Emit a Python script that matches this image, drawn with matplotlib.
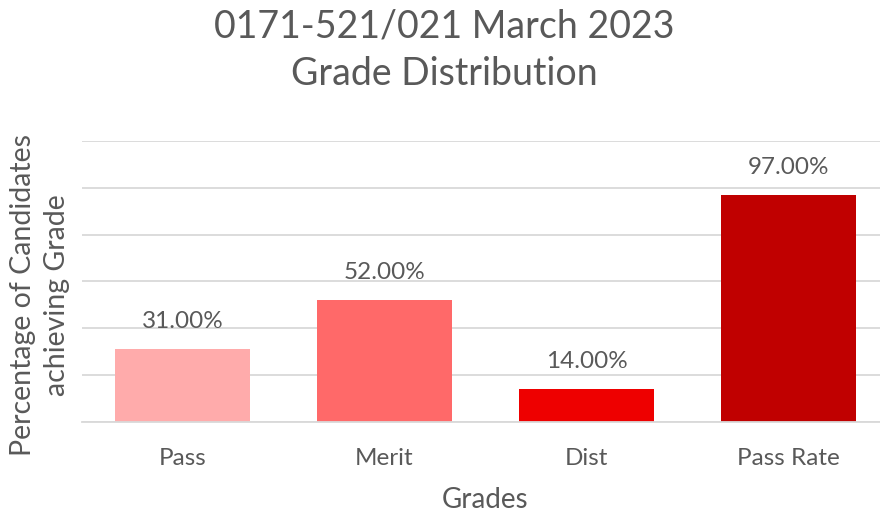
import numpy as np
import matplotlib.pyplot as plt

plt.rcParams['font.family'] = ['Lato', 'DejaVu Sans']

# Data
grades = ['Pass', 'Merit', 'Dist', 'Pass Rate']
percentages = [31.0, 52.0, 14.0, 97.0]
bar_colours = ['#FFABAB', '#FF6969', '#EE0000', '#C00000']

text_grey = '#595959'
grid_grey = '#D9D9D9'

fig = plt.figure(figsize=(8.8, 5.13), dpi=100)
ax = fig.add_axes([81.5 / 880, 1 - 421.5 / 513, 1 - 81.5 / 880, (421.5 - 141) / 513])

x = np.arange(len(grades))
bars = ax.bar(x, percentages, width=0.67, color=bar_colours, zorder=2)

# Value labels above each bar
for rect, val in zip(bars, percentages):
    ax.annotate(f'{val:.2f}%', (rect.get_x() + rect.get_width() / 2, rect.get_height()),
                xytext=(0, 15), textcoords='offset points', ha='center', va='baseline',
                fontsize=17.5, color=text_grey)

ax.set_xlim(-0.5, (880 - 182.5) / 202)
ax.set_ylim(0, 120)
ax.set_yticks(np.arange(0, 121, 20))
ax.set_yticklabels([])
ax.yaxis.grid(True, color=grid_grey, linewidth=1.3, zorder=0)
ax.set_axisbelow(True)

ax.set_xticks(x)
ax.set_xticklabels(grades, fontsize=17.5, color=text_grey)
ax.tick_params(axis='both', length=0, pad=19)

for side in ['top', 'right', 'left']:
    ax.spines[side].set_visible(False)
ax.spines['bottom'].set_color(grid_grey)
ax.spines['bottom'].set_linewidth(1.3)

fig.text(485 / 880, 1 - 500 / 513, 'Grades', ha='center', va='center',
         fontsize=20, color=text_grey)
fig.text(40 / 880, 1 - 295 / 513, 'Percentage of Candidates\nachieving Grade',
         ha='center', va='center', rotation=90, fontsize=20.5, color=text_grey,
         linespacing=1.35)
fig.text(444 / 880, 1 - 50 / 513, '0171-521/021 March 2023\nGrade Distribution',
         ha='center', va='center', fontsize=27, color=text_grey, linespacing=1.4)

fig.savefig('out.png', dpi=100)
